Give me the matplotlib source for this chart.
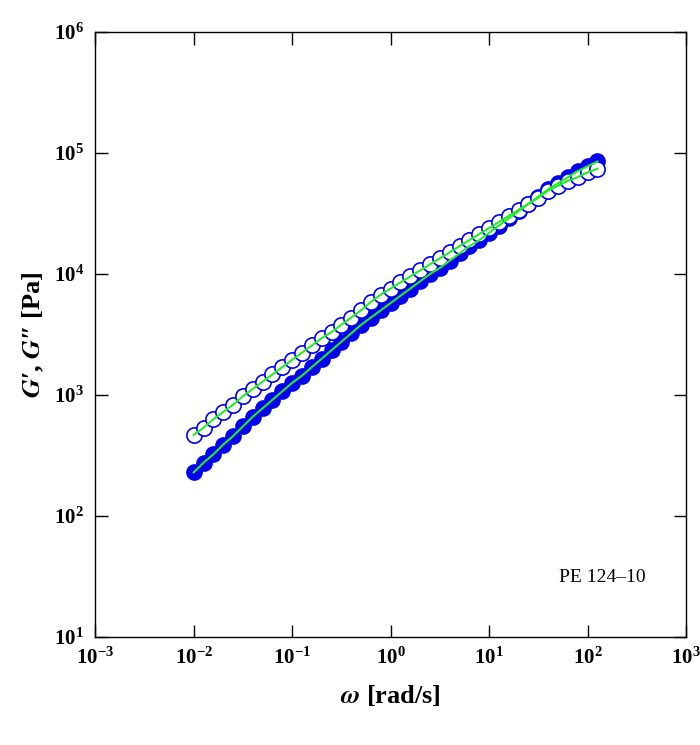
import numpy as np
import matplotlib.pyplot as plt

plt.rcParams['font.family'] = ['Liberation Serif', 'DejaVu Serif']
plt.rcParams['mathtext.fontset'] = 'stix'

# log10 of omega, G' (filled) and G'' (open)
log_w = [-2.0, -1.9, -1.8, -1.7, -1.6, -1.5, -1.4, -1.3, -1.2, -1.1, -1.0,
         -0.9, -0.8, -0.7, -0.6, -0.5, -0.4, -0.3, -0.2, -0.1, 0.0,
         0.1, 0.2, 0.3, 0.4, 0.5, 0.6, 0.7, 0.8, 0.9, 1.0,
         1.1, 1.2, 1.3, 1.4, 1.5, 1.6, 1.7, 1.8, 1.9, 2.0, 2.1]
log_g1 = [2.36, 2.44, 2.51, 2.59, 2.66, 2.74, 2.82, 2.89, 2.96, 3.03, 3.10,
          3.16, 3.23, 3.30, 3.37, 3.44, 3.51, 3.58, 3.64, 3.70, 3.76,
          3.82, 3.88, 3.94, 4.00, 4.05, 4.11, 4.17, 4.23, 4.28, 4.34,
          4.40, 4.46, 4.52, 4.58, 4.64, 4.70, 4.75, 4.80, 4.85, 4.89, 4.93]
log_g2 = [2.67, 2.73, 2.80, 2.86, 2.92, 2.99, 3.05, 3.11, 3.17, 3.23, 3.29,
          3.35, 3.41, 3.47, 3.52, 3.58, 3.64, 3.70, 3.77, 3.83, 3.88,
          3.93, 3.98, 4.03, 4.08, 4.13, 4.18, 4.23, 4.28, 4.33, 4.38,
          4.43, 4.48, 4.53, 4.58, 4.63, 4.69, 4.73, 4.77, 4.80, 4.84, 4.87]

w = 10**np.array(log_w)
g1 = 10**np.array(log_g1)
g2 = 10**np.array(log_g2)

fig = plt.figure(figsize=(7, 7.45), dpi=100)
ax = fig.add_axes([0.136, 0.145, 0.844, 0.812])

ax.plot(w, g1, 'o', color='#0000ee', ms=11, mec='#0000ee', zorder=2)
ax.plot(w, g2, 'o', mfc='white', mec='#0000ee', ms=11, mew=1.2, zorder=3)
ax.plot(w, g1, '-', color='#22ee22', lw=1.5, zorder=4)
ax.plot(w, g2, '-', color='#22ee22', lw=1.5, zorder=4)

ax.set_xscale('log')
ax.set_yscale('log')
ax.set_xlim(1e-3, 1e3)
ax.set_ylim(1e1, 1e6)
ax.minorticks_off()
ax.tick_params(which='major', direction='in', length=9, width=1, top=True, right=True,
               labelsize=15, pad=8)
for lab in ax.get_xticklabels() + ax.get_yticklabels():
    lab.set_fontweight('bold')
for s in ax.spines.values():
    s.set_linewidth(1)

ax.set_xlabel(r'$\mathbfit{\omega}$ [rad/s]', fontsize=19, fontweight='bold', labelpad=10)
ax.set_ylabel('$\\mathbfit{G}$\u2032, $\\mathbfit{G}$\u2033 [Pa]', fontsize=19,
              fontweight='bold', labelpad=6)
ax.text(0.932, 0.0975, 'PE 124\u201310', transform=ax.transAxes, fontsize=14,
        ha='right', va='center')

fig.savefig('out.png', dpi=100)
